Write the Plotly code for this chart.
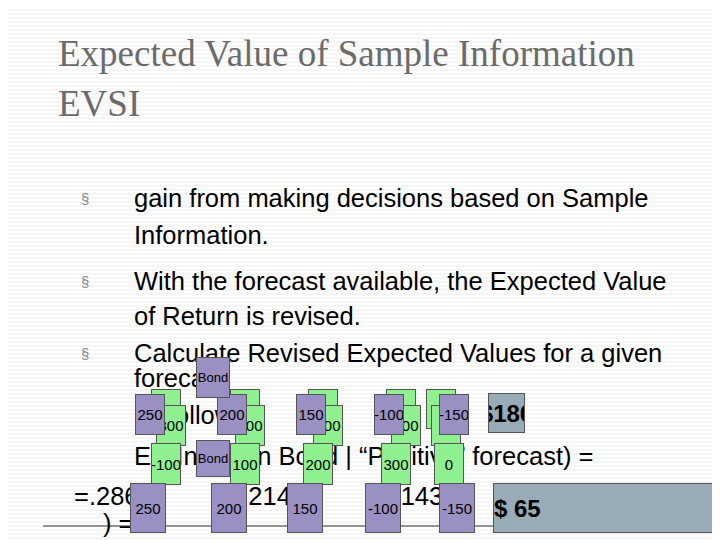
import plotly.graph_objects as go

# slide content
title_lines = ["Expected Value of Sample Information", "EVSI"]
body_lines = [
    ("§", 75, 190), ("gain from making decisions based on Sample", 128, 190),
    ("Information.", 128, 227),
    ("§", 75, 273), ("With the forecast available, the Expected Value", 128, 273),
    ("of Return is revised.", 128, 308),
    ("§", 75, 345), ("Calculate Revised Expected Values for a given", 128, 345),
    ("forecast", 128, 370),
    ("as follows.", 128, 407),
    ("EV(Invest in Bond | \u201cPositive\u201d forecast) =", 128, 448),
    ("=.286(          )+.214(          )+.143(          )+.071(          )+0(", 68, 488),
    (") =", 97, 515),
]

# box labels
green_back = ["300", "100", "200", "300", "0"]
green_front = ["-100", "100", "200", "300", "0"]
purple_top = ["250", "200", "150", "-100", "-150"]
purple_bottom = ["250", "200", "150", "-100", "-150"]
totals = ["$180", "$ 65"]

W, H = 720, 540
fig = go.Figure()
fig.add_trace(go.Scatter(x=[0, W], y=[0, H], mode="markers", marker=dict(opacity=0), showlegend=False, hoverinfo="skip"))

shapes = []
for yy in range(2, H, 4):
    shapes.append(dict(type="line", x0=0, x1=W, y0=yy, y1=yy, line=dict(color="#ececec", width=1), layer="below"))
shapes.append(dict(type="line", x0=35, x1=700, y0=518, y1=518, line=dict(color="#333", width=1)))

annotations = []
for i, t in enumerate(title_lines):
    annotations.append(dict(x=52, y=45 + 50 * i, text=t, showarrow=False, xanchor="left", yanchor="middle",
                            xshift=-4, font=dict(family="Liberation Serif", size=37, color="#6b6b6b")))
for t, x, y in body_lines:
    bullet = t == "§"
    annotations.append(dict(x=x, y=y, text=t, showarrow=False, xanchor="left", yanchor="middle",
                            xshift=-4,
                            font=dict(family="Liberation Sans", size=15 if bullet else 25.5,
                                      color="#888" if bullet else "#000")))


def box(x0, y0, w, h, label, fill, size=15, bold=False, align="center"):
    annotations.append(dict(x=x0 + w / 2, y=y0 + h / 2, text="<b>%s</b>" % label if bold else label,
                            showarrow=False, width=w - 2, height=h - 2, borderpad=0, borderwidth=1,
                            bordercolor="#555", bgcolor=fill, align=align, valign="middle",
                            font=dict(family="Liberation Sans Narrow, Liberation Sans",
                                      size=size, color="#000")))


green = "#8ef08e"
purple = "#9a90c4"
grey = "#9aabb8"
gx_back = [143, 222, 300, 378, 418]
for x, v in zip(gx_back, green_back):
    box(x, 381, 30, 40, v, green)
    box(x + 5, 397, 30, 41, v, green)
px_top = [127, 209, 288, 366, 431]
for x, v in zip(px_top, purple_top):
    box(x, 386, 30, 41, v, purple)
box(188, 349, 34, 41, "Bond", purple, 13)
gx_front = [143, 222, 295, 373, 426]
for x, v in zip(gx_front, green_front):
    box(x, 435, 30, 42, v, green)
box(188, 432, 34, 37, "Bond", purple, 13)
px_bot = [122, 203, 279, 357, 431]
for x, v in zip(px_bot, purple_bottom):
    box(x, 475, 36, 50, v, purple)
box(480, 385, 37, 40, totals[0], grey, 24, True)
annotations.append(dict(x=655, y=513, text="36", showarrow=False, xanchor="left",
                        font=dict(family="Liberation Sans", size=10, color="#333")))
box(485, 475, 240, 50, totals[1], grey, 24, True, align="left")

fig.update_layout(
    width=W, height=H, margin=dict(l=0, r=0, t=0, b=0),
    plot_bgcolor="white", paper_bgcolor="white",
    xaxis=dict(range=[0, W], visible=False, fixedrange=True),
    yaxis=dict(range=[H, 0], visible=False, fixedrange=True),
    shapes=shapes, annotations=annotations, showlegend=False,
)
fig.write_html("out.html")
